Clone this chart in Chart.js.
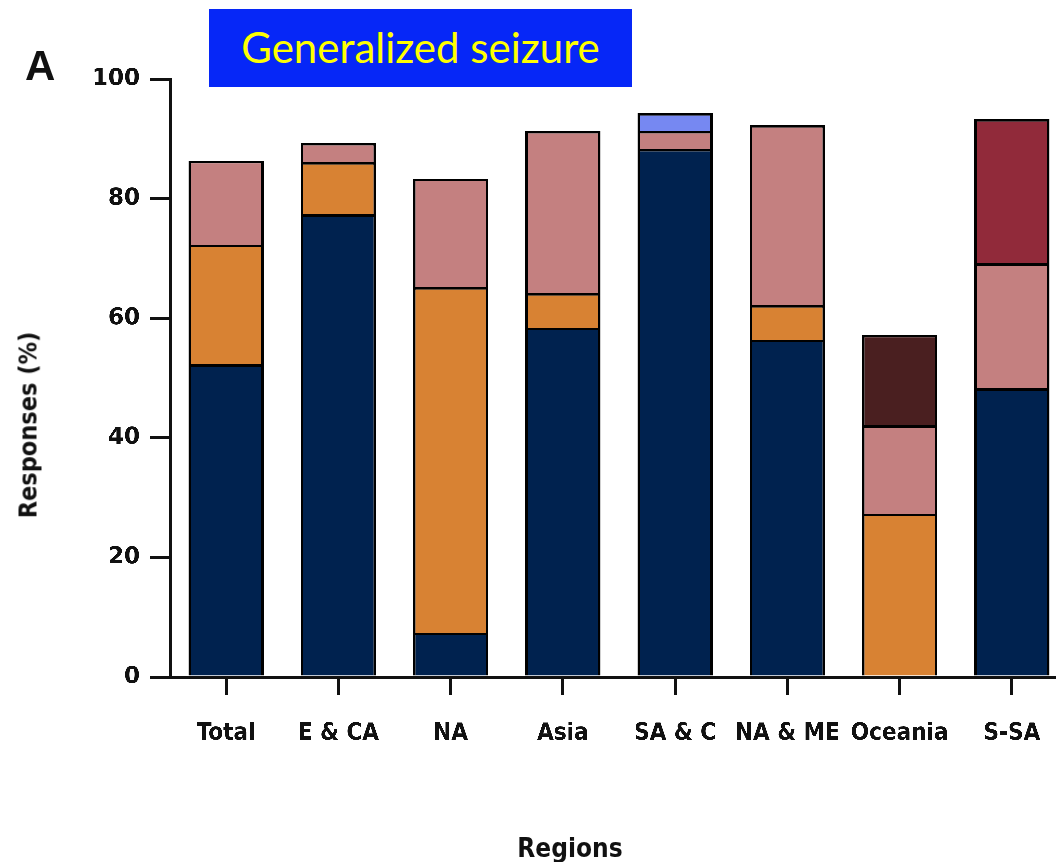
<!DOCTYPE html>
<html>
<head>
<meta charset="utf-8">
<script src="https://cdn.jsdelivr.net/npm/chart.js@4/dist/chart.umd.min.js"></script>
<style>
  html, body { margin: 0; padding: 0; background: #fff; overflow: hidden; }
  #wrap { position: relative; width: 1056px; height: 862px; overflow: hidden; }
  canvas { position: absolute; left: 0; top: 0; }
  .lbl { position: absolute; color: #111; font-weight: bold; white-space: nowrap;
         font-family: "DejaVu Sans Condensed", "DejaVu Sans", sans-serif; }
  #panel { left: 25px; top: 42px; font: bold 42px "Liberation Sans", Arial, sans-serif; }
  #ytitle { left: 28px; top: 425px; font-size: 25px; transform: translate(-50%, -50%) rotate(-90deg); }
  #xtitle { left: 570px; top: 848px; font-size: 26px; transform: translate(-50%, -50%); }
  #title { position: absolute; left: 209px; top: 9px; width: 423px; height: 78px; background: #0627f7;
           color: #ffff00; font: 42px Lato, "Open Sans", sans-serif; line-height: 76px; text-align: center; }
</style>
</head>
<body>
<div id="wrap">
  <canvas id="seizureChart" width="1068" height="862" style="width:1068px;height:862px"></canvas>
  <div id="panel" class="lbl">A</div>
  <div id="title">Generalized seizure</div>
  <div id="ytitle" class="lbl">Responses (%)</div>
  <div id="xtitle" class="lbl">Regions</div>
</div>
<script>
const regions = ["Total", "E & CA", "NA", "Asia", "SA & C", "NA & ME", "Oceania", "S-SA"];
const yTicks = [0, 20, 40, 60, 80, 100];

// stacked segments, bottom to top (% of responses)
const navyValues = [52.3, 77.4, 7.4, 58.4, 88.3, 56.4, null, 48.3];
const orangeValues = [20.0, 8.7, 57.8, 5.8, null, 5.8, 27.3, null];
const pinkValues = [14.0, 3.2, 18.1, 27.1, 3.0, 30.1, 14.8, 20.9];
const lightBlueValues = [null, null, null, null, 3.0, null, null, null];
const brownValues = [null, null, null, null, null, null, 15.1, null];
const darkRedValues = [null, null, null, null, null, null, null, 24.1];

const labelFont = "'DejaVu Sans Condensed', 'DejaVu Sans', sans-serif";

function seg (label, data, color) {
  return {
    label: label,
    data: data,
    backgroundColor: color,
    borderColor: "#000",
    borderWidth: 2.5,
    borderSkipped: "start",
    inflateAmount: 0,
    barPercentage: 0.67,
    categoryPercentage: 1
  };
}

const ctx = document.getElementById("seizureChart").getContext("2d");
new Chart(ctx, {
  type: "bar",
  data: {
    labels: regions,
    datasets: [
      seg("Segment 1", navyValues, "#00224f"),
      seg("Segment 2", orangeValues, "#d88233"),
      seg("Segment 3", pinkValues, "#c48080"),
      seg("Segment 4", lightBlueValues, "#7688f2"),
      seg("Segment 5", brownValues, "#4a1f20"),
      seg("Segment 6", darkRedValues, "#912a3a")
    ]
  },
  options: {
    responsive: false,
    animation: false,
    devicePixelRatio: 3,
    layout: { padding: { top: 79, right: 0, bottom: 0, left: 0 } },
    plugins: { legend: { display: false }, tooltip: { enabled: false } },
    scales: {
      x: {
        stacked: true,
        grid: { display: true, offset: false, drawOnChartArea: false, drawTicks: true, tickLength: 18, tickColor: "#111", lineWidth: 3 },
        border: { display: true, color: "#111", width: 3 },
        ticks: {
          autoSkip: false, maxRotation: 0, minRotation: 0, padding: 24, color: "#111",
          font: { family: labelFont, size: 24, weight: "bold" }
        },
        afterFit: function (scale) { scale.height = 185; }
      },
      y: {
        stacked: true,
        min: 0,
        max: 100,
        afterBuildTicks: function (scale) { scale.ticks = yTicks.map(v => ({ value: v })); },
        grid: { display: true, drawOnChartArea: false, drawTicks: true, tickLength: 20, tickColor: "#111", lineWidth: 3 },
        border: { display: true, color: "#111", width: 3 },
        ticks: {
          padding: 10, color: "#111",
          font: { family: "'DejaVu Sans', sans-serif", size: 23, weight: "bold" }
        },
        afterFit: function (scale) { scale.width = 170; }
      }
    }
  }
});
</script>
</body>
</html>
